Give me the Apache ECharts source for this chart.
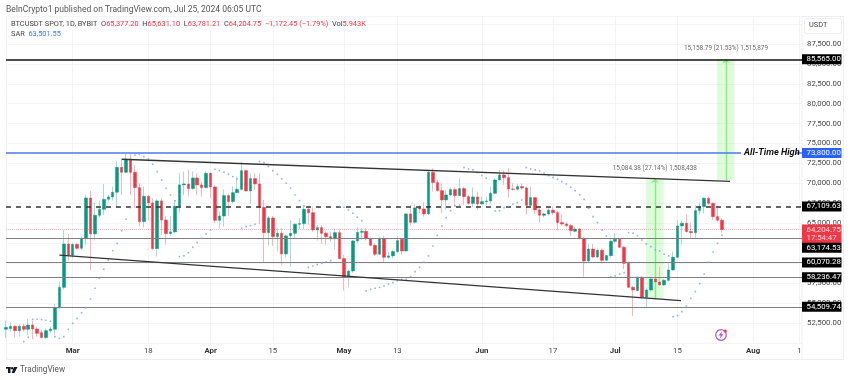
<!DOCTYPE html>
<html><head><meta charset="utf-8">
<style>html,body{margin:0;padding:0;background:#fff}#c{width:850px;height:380px}</style>
<script src="https://cdn.jsdelivr.net/npm/echarts@6/dist/echarts.min.js"></script>
</head><body><div id="c"></div>
<script>
// Day number 0 = 1 Mar 2024, first candle = 15 Feb 2024
const firstDay = -15;
const opens = [51700,51780,52070,51520,52070,51700,52240,51730,51270,50650,51520,51700,54410,56960,62400,
60980,62360,61860,63110,68170,63660,66000,66750,68000,68300,
68890,72020,71390,73030,71390,69470,65200,68380,67550,61820,
67800,65410,63700,63910,67130,69810,69930,69350,70680,69810,
69470,71270,69550,65370,65910,68470,67710,68840,69260,71600,
69050,70600,69930,67000,63820,65660,63320,63740,61150,63410,
63740,64870,64950,66750,66330,64160,64450,63740,63320,63070,
63820,60560,58260,59010,62780,63860,63990,63070,62230,61110,
63070,60730,60900,61440,62990,61520,66170,65120,66920,66790,
66170,71390,70100,69090,67920,68550,69220,68470,69350,68340,
67500,68300,67420,67710,67800,68760,70430,71060,70720,69300,
69260,69600,69430,67250,68220,66670,66000,66170,66630,66330,
65080,64910,64700,63990,64280,63110,60270,61770,60770,61610,
60350,60940,62740,62990,61980,59970,56960,56550,58220,55710,
56630,58010,57630,57260,57840,59140,60730,64660,65000,63950,
63820,66580,67090,68130,67500,65830,65377.2];
const closes = [51940,52070,51520,52070,51700,52220,51730,51190,50650,51520,51730,54410,56960,62400,60980,
62360,61860,63110,68170,63660,66000,66750,68000,68300,68890,
72020,71390,73030,71390,69470,65200,68380,67550,61820,67800,
65410,63700,63910,67130,69810,69930,69350,70680,69810,69470,
71270,69550,65370,65910,68470,67710,68840,69260,71600,69050,
70600,69930,67000,63820,65660,63320,63740,61150,63410,63740,
64870,64950,66750,66330,64160,64450,63740,63320,63070,63820,
60560,58260,59010,62780,63860,63990,63070,62230,61110,63070,
60730,60900,61440,62820,61520,66170,65120,66920,66790,66170,
71390,70100,69090,67920,68550,69220,68470,69350,68340,67500,
68300,67420,67710,67800,68760,70430,71060,70720,69300,69260,
69600,69430,67250,68220,66670,66000,66170,66630,66330,65080,
64910,64700,64070,64280,63110,60270,61770,60770,61610,60350,
60940,62740,62990,61980,59970,56960,56630,58220,55710,56630,
58010,57630,57260,57840,59140,60730,64660,65000,63950,63820,
66580,67090,68130,67500,65830,65380,64204.75];
const lows = [50560,51400,50690,50770,51400,50980,50440,50770,50560,50480,51190,50980,54330,56710,60310,
60600,61650,61570,62280,59060,62820,65750,66040,67710,67840,
66960,68550,71270,68550,66880,64580,64490,65410,61650,60810,
63530,62280,63400,63740,66330,68550,68340,69180,68550,68340,
69390,68130,65000,64370,64580,65910,67500,68760,69090,68970,
67420,69180,64870,60060,62150,62150,61440,59770,60730,59560,
63110,64240,64240,64790,63950,62820,62400,62280,62690,61730,
60480,56550,56960,58800,62570,62900,62820,62070,60900,61020,
60140,60480,60600,61230,61100,61440,64790,64910,66250,65830,
66040,68970,68970,66250,66670,68420,67090,68340,67300,67300,
67000,66670,67300,67300,67500,68670,70350,69800,68220,69090,
69090,69180,66040,67090,66170,65080,65750,65960,66040,64030,
64660,64490,63400,63860,62990,58300,60180,60600,60600,59970,
60270,60730,62490,61860,59220,56840,53370,56420,55580,54330,
56420,57130,57130,57130,57670,59050,60600,62400,63820,63110,
63110,66040,66250,67300,65410,65200,63781.21];
const highs = [52780,52570,52240,52360,52360,52990,52780,52030,51610,51820,52030,54870,57670,64160,63660,
62480,62480,63320,68550,69050,67590,67840,69930,68550,69600,
72730,72940,73700,73700,72310,70010,69600,68550,68130,68000,
68130,65910,65910,67920,71270,71480,71690,71480,71270,70220,
71480,71350,69810,66460,69260,68760,69600,70850,72730,71690,
71270,71270,71270,67920,65910,65910,64370,64370,63530,65410,
65000,65620,67300,67170,67000,64790,64790,63950,63950,64370,
64240,61020,59140,62900,64490,64370,64370,63240,62480,63320,
63410,61440,61650,63410,63110,66250,67300,67380,67300,67630,
71600,71900,70430,70010,69180,69510,69510,70640,69600,68550,
69510,68970,68340,68340,69600,70640,71690,71600,71900,70010,
69930,70010,69600,69600,68260,66880,66330,67000,67090,66540,
66040,65200,64910,64490,64370,63240,62400,62400,61820,61820,
61020,62990,63740,63070,62150,60180,57130,58390,58390,56840,
58220,59560,59560,57970,59970,61440,65410,65330,66120,65080,
67300,67590,68260,68340,67590,67170,65631.1];

const sarDays = [-11,-10,-9,-8,-7,-6,-5,-4,-3,-2,-1,0,1,2,3,4,5,6,7,8,9,10,11,12,13,14,15,16,17,18,19,20,21,22,23,24,25,26,27,28,29,30,31,32,33,34,35,36,37,38,39,40,41,42,43,44,45,46,47,48,49,50,51,52,53,54,55,56,57,58,60,61,62,63,64,65,66,67,68,69,70,71,72,73,74,75,76,77,78,79,80,81,82,83,84,85,86,87,88,89,90,91,92,93,95,96,97,98,99,100,101,102,103,104,105,106,107,108,109,110,111,112,113,114,115,116,117,118,119,120,121,122,123,124,125,126,127,128,129,130,131,132,133,134,135,136,137,138,139,140,141,142,143,144,145,146];
const sarValues = [50140,50690,52950,52950,52910,52820,52700,50770,50560,50770,51690,52450,53070,53780,54410,55500,56840,58090,59220,60390,61570,62480,64070,65500,66960,73570,73650,73360,73070,72400,71480,70430,69390,68550,67800,60810,60900,61310,61980,62570,63110,63660,64160,71770,71600,71390,71140,70850,70560,64370,64580,64700,64870,72730,72610,72110,71600,71140,70560,70010,69390,68550,67840,67170,59470,59640,59810,59970,60140,60310,67090,67000,66670,66250,65750,65330,56500,56710,56840,56960,57130,57380,57550,57800,57970,57970,58300,58930,59470,60100,60900,62150,63490,64660,65700,66580,67170,67300,71980,71810,71690,71350,70980,70640,66540,66580,66960,67090,67380,67590,67920,71980,71810,71690,71560,71270,70980,70720,70510,70220,69930,69510,69090,68550,68000,66880,65830,65080,64120,63400,58300,58390,58640,58800,63820,63740,63450,62900,62400,62070,61650,61520,61100,60900,53280,53410,53910,54620,55580,56420,57420,58640,60100,61400,62480,63501.55];

const tickDays = [0,17,31,45,61,73,92,108,122,136,153,163.4];
const tickLabels = ['Mar','18','Apr','15','May','13','Jun','17','Jul','15','Aug','1'];
const boldLabels = ['Mar','Apr','May','Jun','Jul','Aug'];
const xMin = -15, xMax = 164, yMin = 50000, yMax = 91000, yStep = 2500;
const priceLow = 52500, priceHigh = 87500;

const supportLevels = [63174.53, 60070.28, 58236.47, 54509.74];
const targetLevel = 85565, dashedLevel = 67109.63, athLevel = 73800, lastPrice = 64204.75;
const upperChannel = [[11,73030],[147.8,70240]];
const lowerChannel = [[-3,61000],[136.8,55290]];
const measure1 = {from:55500, to:70580, left:128.9, right:132.9, mid:130.9, text:'15,084.38 (27.14%) 1,508,438'};
const measure2 = {from:70406, to:85565, left:144.9, right:148.8, mid:146.9, text:'15,158.79 (21.53%) 1,515,879'};

const FONT = 'Roboto, "Liberation Sans", sans-serif';
const UP='#089981', DOWN='#F23645', UPW='#a9dbd2', DOWNW='#fab4ba';
const fmt = v => v.toLocaleString('en-US',{minimumFractionDigits:2,maximumFractionDigits:2});

const wickData = opens.map((o,i)=>[i+firstDay,o,closes[i],lows[i],highs[i]]);
const bodyData = opens.map((o,i)=>[i+firstDay,o,closes[i],Math.min(o,closes[i]),Math.max(o,closes[i])]);
const sarData = sarDays.map((d,i)=>[d,sarValues[i]]);

const box = (bg, color, extra) => Object.assign({show:true, position:'end', distance:0, backgroundColor:bg, color:color||'#fff',
  fontFamily:FONT, fontSize:7.8, padding:[1,3,1,4.5], width:32, align:'left', lineHeight:8, formatter:'{c}'}, extra||{});
const level = (v, ls, label, x0, x1) => [
  {coord:[x0===undefined?xMin:x0, v], value:v, lineStyle:ls, label:label},
  {coord:[x1===undefined?xMax:x1, v]}
];
const gray = {color:'#808080', width:1, type:'solid'};
const BLUE = {color:'#4d78ef',width:1.5,type:'solid'};
const levelLines = [
  level(lastPrice,{color:'rgba(242,54,69,.35)',width:1,type:'dotted'},box(DOWN,'#ffdfe2',{formatter:fmt(lastPrice)+'\n17:54:47',lineHeight:8.5,padding:[1,3,1,4.5],offset:[0,4.5]})),
  level(targetLevel,{color:'#111',width:1.6,type:'solid'},box('#000','#fff',{formatter:fmt(targetLevel)})),
  level(dashedLevel,{color:'#333',width:1.5,type:[5,5]},box('#000','#fff',{formatter:fmt(dashedLevel)})),
  level(athLevel,BLUE,{show:true,position:'end',distance:3,formatter:'All-Time High',color:'#111',fontFamily:FONT,fontStyle:'italic',fontWeight:'bold',fontSize:9.2,lineHeight:10},xMin,150.3),
  level(athLevel,BLUE,box('#2962ff','#fff',{formatter:fmt(athLevel)}),162.6,xMax),
  level(supportLevels[0],gray,box('#000','#fff',{formatter:fmt(supportLevels[0]),offset:[0,10]})),
  level(supportLevels[1],gray,box('#000','#fff',{formatter:fmt(supportLevels[1])})),
  level(supportLevels[2],gray,box('#000','#fff',{formatter:fmt(supportLevels[2])})),
  level(supportLevels[3],gray,box('#000','#fff',{formatter:fmt(supportLevels[3])}))
];
const GREENFILL='rgba(90,235,80,.2)', GREENLINE='#86ec7e';
const measureArea = m => [{coord:[m.left,m.to]},{coord:[m.right,m.from]}];
const measureArrow = m => [{coord:[m.mid,m.from],symbol:'none'},{coord:[m.mid,m.to],symbol:'arrow',symbolSize:[6,4]}];
const hdr = {fontFamily:FONT,fontSize:8.5,fill:'#555'};
const LF=7.4;
const r = {c:{fill:'#444',fontSize:LF,fontFamily:FONT},v:{fill:'#F23645',fontSize:LF,fontFamily:FONT},b:{fill:'#3b78f0',fontSize:LF,fontFamily:FONT}};

const option = {
  animation:false, backgroundColor:'#fff',
  grid:{left:6, right:48, top:16, height:326.8, containLabel:false},
  xAxis:{type:'value', min:xMin, max:xMax, 
    axisLine:{show:false}, axisTick:{show:false,customValues:tickDays},
    splitLine:{show:true,lineStyle:{color:'#f4f4f6',width:1}},
    axisLabel:{customValues:tickDays, margin:4, showMinLabel:true, showMaxLabel:true, fontFamily:FONT, fontSize:7.8, color:'#444',
      formatter:v=>{const s=tickLabels[tickDays.indexOf(v)]; return boldLabels.includes(s)?'{m|'+s+'}':s;},
      rich:{m:{fontWeight:'bold',fontFamily:FONT,fontSize:7.8,color:'#333'}}}},
  yAxis:{type:'value', position:'right', min:yMin, max:yMax, interval:yStep,
    axisLine:{show:false}, axisTick:{show:false},
    splitLine:{lineStyle:{color:'#f4f4f6',width:1}},
    axisLabel:{margin:5, fontFamily:FONT, fontSize:7.8, color:'#444',
      formatter:v=>(v<priceLow||v>priceHigh)?'':fmt(v)}},
  series:[
    {type:'line', name:'levels', data:[], z:3, silent:true,
     markLine:{silent:true,symbol:'none',animation:false,z:6,data:levelLines}},
    {type:'candlestick', name:'wicks', data:wickData, barWidth:1, z:4, silent:true,
     itemStyle:{color:UPW,color0:DOWNW,borderColor:UPW,borderColor0:DOWNW,borderWidth:1}},
    {type:'candlestick', name:'bodies', data:bodyData, barWidth:3, z:5, silent:true,
     itemStyle:{color:UP,color0:DOWN,borderColor:UP,borderColor0:DOWN,borderWidth:0.5}},
    {type:'scatter', name:'SAR', data:sarData, symbol:'rect', symbolSize:1.6, z:6, silent:true,
     itemStyle:{color:'#7d9df2'}},
    {type:'line', name:'upper channel', data:upperChannel, symbol:'none', z:7, silent:true, lineStyle:{color:'#333',width:1.3}},
    {type:'line', name:'lower channel', data:lowerChannel, symbol:'none', z:7, silent:true, lineStyle:{color:'#333',width:1.3}},
    {type:'line', name:'measures', data:[], z:7, silent:true,
     markArea:{silent:true,itemStyle:{color:GREENFILL},data:[measureArea(measure1),measureArea(measure2)]},
     markLine:{silent:true,animation:false,lineStyle:{color:GREENLINE,width:1.4,type:'solid'},label:{show:false},data:[measureArrow(measure1),measureArrow(measure2)]}},
    {type:'scatter', name:'measure labels', silent:true, symbolSize:0, z:8,
     data:[{value:[measure1.mid,71900],name:measure1.text},{value:[measure2.mid,86900],name:measure2.text}],
     label:{show:true,position:'inside',formatter:'{b}',color:'#444',fontFamily:FONT,fontSize:6.4}}
  ],
  graphic:[
    {type:'rect',z:-1,silent:true,shape:{x:6.5,y:16.5,width:837,height:343},style:{fill:'none',stroke:'#eceef2',lineWidth:1}},
    {type:'line',z:-1,silent:true,shape:{x1:802,y1:16,x2:802,y2:359},style:{stroke:'#f0f1f4',lineWidth:1}},
    {type:'text',x:6,y:5,silent:true,style:Object.assign({text:'BeInCrypto1 published on TradingView.com, Jul 25, 2024 06:05 UTC'},hdr)},
    {type:'text',x:11,y:21,silent:true,z:20,style:{text:'{c|BTCUSDT SPOT, 1D, BYBIT  O}{v|65,377.20}{c|  H}{v|65,631.10}{c|  L}{v|63,781.21}{c|  C}{v|64,204.75}{v|  −1,172.45 (−1.79%)}{c|  Vol}{v|5.943K}',rich:r,fontFamily:FONT,fontSize:LF}},
    {type:'text',x:11,y:31,silent:true,z:20,style:{text:'{c|SAR  }{b|63,501.55}',rich:r,fontFamily:FONT,fontSize:LF}},
    {type:'rect',z:20,silent:true,shape:{x:804.5,y:18.5,width:37,height:15,r:2},style:{fill:'#fff',stroke:'#eceef2',lineWidth:1}},
    {type:'text',z:21,x:809,y:22,silent:true,style:{text:'USDT',fontFamily:FONT,fontSize:7.4,fill:'#444'}},
    {type:'circle',z:20,silent:true,shape:{cx:721,cy:335,r:5.3},style:{fill:'#fff',stroke:'#b04fcb',lineWidth:1.2}},
    {type:'polygon',z:21,silent:true,shape:{points:[[722.5,331],[718.5,335.6],[720.8,335.6],[719.5,339],[723.5,334.2],[721.2,334.2]]},style:{fill:'#b04fcb'}},
    {type:'circle',z:22,silent:true,shape:{cx:725.2,cy:331,r:1.6},style:{fill:'#ef3b4a'}},
    {type:'rect',silent:true,shape:{x:6,y:367,width:4.5,height:1.7},style:{fill:'#131722'}},
    {type:'rect',silent:true,shape:{x:8,y:367,width:2.5,height:6},style:{fill:'#131722'}},
    {type:'circle',silent:true,shape:{cx:12.2,cy:368.2,r:1.2},style:{fill:'#131722'}},
    {type:'polygon',silent:true,shape:{points:[[14,367],[17.5,367],[14.4,373],[11.6,373]]},style:{fill:'#131722'}},
    {type:'text',x:20,y:365.5,silent:true,style:{text:'TradingView',fontFamily:FONT,fontSize:8.2,fill:'#555'}}
  ]
};
echarts.init(document.getElementById('c'),null,{renderer:'canvas'}).setOption(option);
</script></body></html>
